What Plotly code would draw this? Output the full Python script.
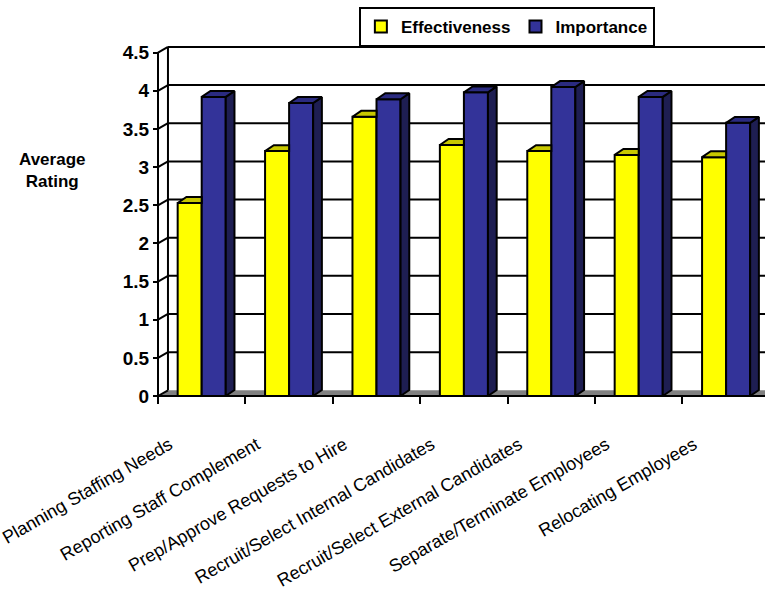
import plotly.graph_objects as go

# ---- data -------------------------------------------------------------
categories = [
    "Planning Staffing Needs",
    "Reporting Staff Complement",
    "Prep/Approve Requests to Hire",
    "Recruit/Select Internal Candidates",
    "Recruit/Select External Candidates",
    "Separate/Terminate Employees",
    "Relocating Employees",
]
series_names = ["Effectiveness", "Importance"]
effectiveness = [2.53, 3.21, 3.66, 3.29, 3.21, 3.16, 3.13]
importance = [3.92, 3.84, 3.89, 3.98, 4.05, 3.92, 3.58]
y_ticks = [0, 0.5, 1, 1.5, 2, 2.5, 3, 3.5, 4, 4.5]
y_tick_labels = ["0", "0.5", "1", "1.5", "2", "2.5", "3", "3.5", "4", "4.5"]

# ---- styling ------------------------------------------------------------
FONT = "Liberation Sans, Arial, sans-serif"
YELLOW, YELLOW_TOP = "#FFFF00", "#C8C800"
BLUE, BLUE_TOP, BLUE_SIDE = "#333399", "#2B2B80", "#1E1E52"
EDGE = "black"

BAR_W = 0.275                 # width of one bar (category units)
OFFSETS = [-0.1375, 0.1375]   # bar centres relative to category
DX, DY = 0.10, 0.078          # depth of the bar boxes (x units, value units)
WDX, WDY = 0.114, 0.075       # depth of the walls / floor
X_LEFT = -0.5                 # front corner of the value axis
X_RANGE = [-0.706, 6.445]
Y_RANGE = [-0.1835, 4.666]
Y_MAX = y_ticks[-1]
LABEL_SHIFT = -0.37           # category labels end left of the column pair

n = len(categories)
xs = list(range(n))
values = [effectiveness, importance]

fig = go.Figure()

# front faces of the columns
for name, vals, col in zip(series_names, values, [YELLOW, BLUE]):
    fig.add_trace(go.Bar(
        x=xs, y=vals, name=name, width=BAR_W,
        marker=dict(color=col, line=dict(color=EDGE, width=2)),
        hoverinfo="skip",
    ))


def top_faces(vals, off, other=None):
    px, py = [], []
    for i, v in enumerate(vals):
        x0 = i + off - BAR_W / 2
        x1 = x0 + BAR_W
        xr = x1 + DX
        # the right-hand neighbour hides the back part when it is taller
        if other is not None and other[i] >= v:
            xr = x1
        px += [x0, x0 + DX, xr, x1, x0, None]
        py += [v, v + DY, v + DY, v, v, None]
    return px, py


def side_faces(vals, off):
    px, py = [], []
    for i, v in enumerate(vals):
        x1 = i + off + BAR_W / 2
        px += [x1, x1, x1 + DX, x1 + DX, x1, None]
        py += [0, v, v + DY, DY, 0, None]
    return px, py


tx, ty = top_faces(effectiveness, OFFSETS[0], other=importance)
fig.add_trace(go.Scatter(x=tx, y=ty, mode="lines", fill="toself", fillcolor=YELLOW_TOP,
                         line=dict(color=EDGE, width=2), showlegend=False, hoverinfo="skip"))
sx, sy = side_faces(importance, OFFSETS[1])
fig.add_trace(go.Scatter(x=sx, y=sy, mode="lines", fill="toself", fillcolor=BLUE_SIDE,
                         line=dict(color=EDGE, width=2), showlegend=False, hoverinfo="skip"))
tx, ty = top_faces(importance, OFFSETS[1])
fig.add_trace(go.Scatter(x=tx, y=ty, mode="lines", fill="toself", fillcolor=BLUE_TOP,
                         line=dict(color=EDGE, width=2), showlegend=False, hoverinfo="skip"))

# empty trace that carries the boundary-tick axis
fig.add_trace(go.Scatter(x=[], y=[], xaxis="x2", showlegend=False, hoverinfo="skip"))

# ---- walls and floor ----------------------------------------------------
shapes = []
x_far = X_RANGE[1] + 1
shapes.append(dict(type="path", layer="below", xref="x", yref="y",
                   path=f"M{X_LEFT},0 L{X_LEFT + WDX},{WDY} L{x_far},{WDY} L{x_far},0 Z",
                   fillcolor="#808080", line=dict(width=0)))
for v in y_ticks:
    if v > 0:
        shapes.append(dict(type="line", layer="below", xref="x", yref="y",
                           x0=X_LEFT + WDX, x1=x_far, y0=v + WDY, y1=v + WDY,
                           line=dict(color=EDGE, width=2)))
    shapes.append(dict(type="line", layer="below", xref="x", yref="y",
                       x0=X_LEFT, x1=X_LEFT + WDX, y0=v, y1=v + WDY,
                       line=dict(color=EDGE, width=2)))
# back-wall corner, front value axis, front floor edge
shapes.append(dict(type="line", layer="below", xref="x", yref="y",
                   x0=X_LEFT + WDX, x1=X_LEFT + WDX, y0=WDY, y1=Y_MAX + WDY,
                   line=dict(color=EDGE, width=2)))
shapes.append(dict(type="line", layer="above", xref="x", yref="y",
                   x0=X_LEFT, x1=X_LEFT, y0=0, y1=Y_MAX,
                   line=dict(color=EDGE, width=2)))
shapes.append(dict(type="line", layer="above", xref="x", yref="y",
                   x0=X_LEFT, x1=x_far, y0=0, y1=0,
                   line=dict(color=EDGE, width=2)))

fig.update_layout(
    width=765, height=592,
    margin=dict(l=140, r=0, t=40, b=182),
    paper_bgcolor="white", plot_bgcolor="white",
    barmode="group", bargap=0.45,
    font=dict(family=FONT, color="black"),
    shapes=shapes,
    showlegend=True,
    legend=dict(orientation="h", x=0.587, xanchor="center", y=1.089, yanchor="top",
                bordercolor="black", borderwidth=2, bgcolor="white",
                font=dict(size=17, weight="bold"), itemwidth=30,
                tracegroupgap=0),
    xaxis=dict(range=X_RANGE, showgrid=False, zeroline=False, showline=False,
               tickmode="array", tickvals=[i + LABEL_SHIFT for i in xs], ticktext=categories,
               tickangle=-30, ticks="", ticklabelstandoff=20, ticklabeloverflow="allow",
               tickfont=dict(size=18)),
    xaxis2=dict(range=X_RANGE, overlaying="x", anchor="free", position=0.0378,
                side="bottom", showgrid=False, zeroline=False, showline=False,
                tickmode="array", tickvals=[i - 0.5 for i in range(n)],
                ticks="outside", ticklen=7, tickwidth=2, tickcolor=EDGE,
                showticklabels=False),
    yaxis=dict(range=Y_RANGE, anchor="free", position=0.0288,
               showgrid=False, zeroline=False, showline=False,
               tickmode="array", tickvals=y_ticks, ticktext=y_tick_labels,
               ticks="outside", ticklen=5, tickwidth=2, tickcolor=EDGE,
               tickfont=dict(size=19, weight="bold")),
    annotations=[dict(text="Average<br>Rating", xref="paper", yref="paper",
                      x=-0.1408, y=0.6486, xanchor="center", yanchor="middle",
                      showarrow=False, font=dict(size=17, weight="bold"))],
)

fig.write_html("out.html")
